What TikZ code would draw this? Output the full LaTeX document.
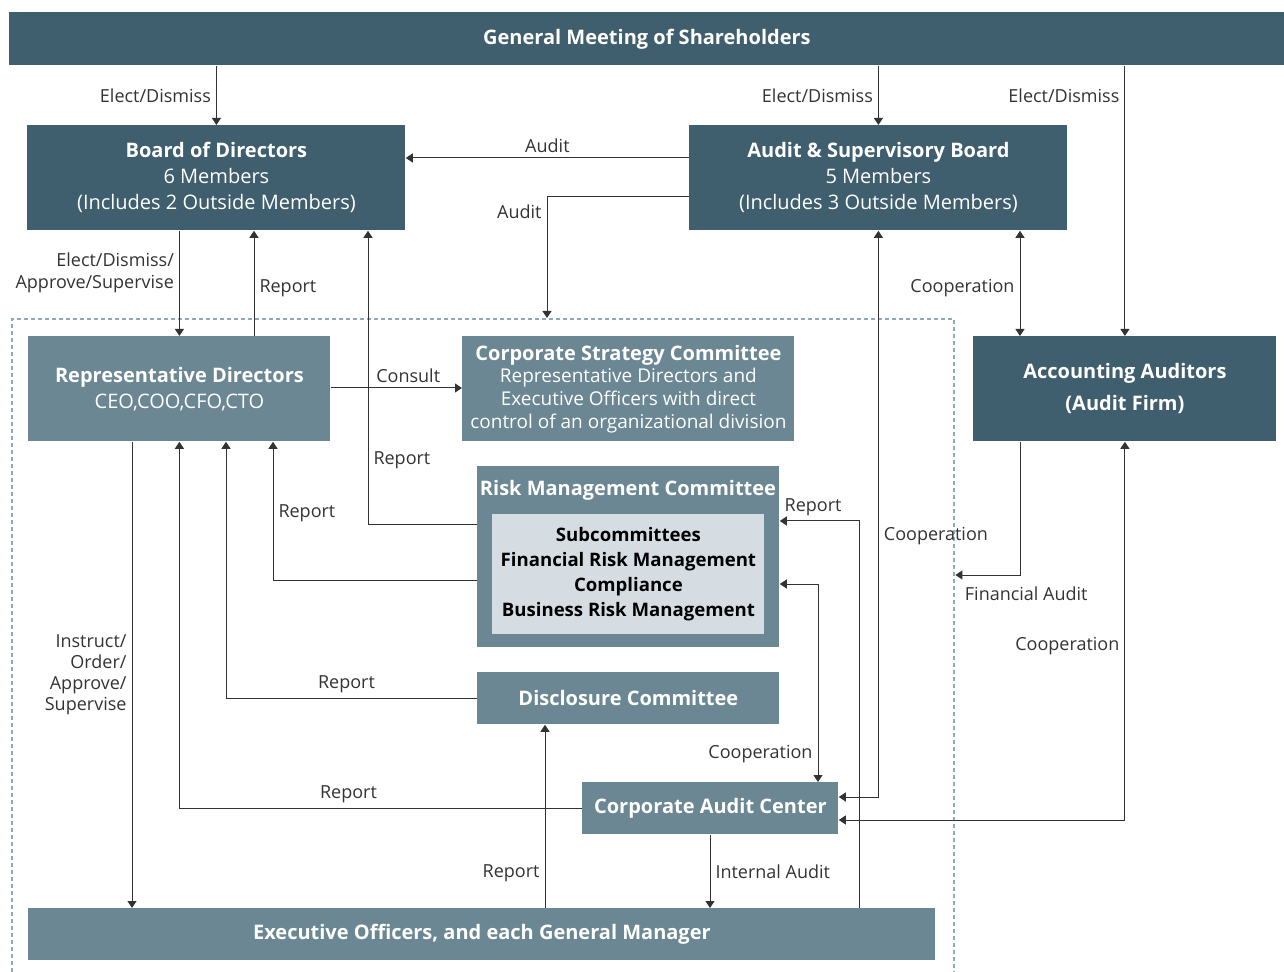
\documentclass[tikz,border=0pt]{standalone}
\usepackage{fontspec}
\setmainfont{Open Sans}
\usetikzlibrary{arrows.meta}

\definecolor{darkteal}{HTML}{3F5E6E}
\definecolor{midteal}{HTML}{6A8793}
\definecolor{paleteal}{HTML}{D5DDE3}
\definecolor{frameblue}{HTML}{8BAABA}
\definecolor{linegray}{HTML}{333333}

\tikzset{
  darkbox/.style={fill=darkteal, text=white, inner sep=0pt, anchor=north west,
    align=center, font=\fontsize{10}{13}\selectfont},
  midbox/.style={darkbox, fill=midteal},
  subbox/.style={fill=paleteal, text=black, inner sep=0pt, anchor=north west,
    align=center, font=\bfseries\fontsize{9.3}{12.5}\selectfont},
  frame/.style={draw=frameblue, line width=1.2pt, dash pattern=on 2pt off 1.5pt,
    inner sep=0pt, anchor=north west},
  lbl/.style={font=\fontsize{9}{11}\selectfont, text=linegray, inner sep=2.5pt},
  arr/.style={draw=linegray, line width=0.5pt, -{Triangle[length=3.5pt,width=4.5pt]}},
  twoway/.style={arr, {Triangle[length=3.5pt,width=4.5pt]}-{Triangle[length=3.5pt,width=4.5pt]}}
}

\begin{document}
\begin{tikzpicture}[x=0.5pt,y=-0.5pt]
  \useasboundingbox (0,0) rectangle (1284,972);

  % Frame round the executive bodies
  \node[frame, minimum width=471pt, minimum height=340pt] (grp) at (11,318) {};

  % Governing bodies
  \node[darkbox, minimum width=637.5pt, minimum height=26.5pt] (gms) at (9,12)
    {\textbf{General Meeting of Shareholders}};
  \node[darkbox, minimum width=189pt, minimum height=52.5pt] (bod) at (27,125)
    {\textbf{Board of Directors}\\6 Members\\(Includes 2 Outside Members)};
  \node[darkbox, minimum width=189pt, minimum height=52.5pt] (asb) at (689,125)
    {\textbf{Audit \& Supervisory Board}\\5 Members\\(Includes 3 Outside Members)};
  \node[darkbox, minimum width=151.5pt, minimum height=52.5pt, font=\bfseries\fontsize{10}{16}\selectfont] (acc) at (973,336)
    {Accounting Auditors\\(Audit Firm)};

  % Executive side
  \node[midbox, minimum width=151pt, minimum height=52.5pt] (rep) at (28,336)
    {\textbf{Representative Directors}\\CEO,COO,CFO,CTO};
  \node[midbox, minimum width=166pt, minimum height=52.5pt, font=\fontsize{9.5}{11.3}\selectfont] (csc) at (462,336)
    {\textbf{\fontsize{10}{12}\selectfont Corporate Strategy Committee}\\Representative Directors and\\Executive Officers with direct\\control of an organizational division};
  \node[midbox, minimum width=151pt, minimum height=90.5pt] (risk) at (477,466) {};
  \node[text=white, font=\bfseries\fontsize{10}{12}\selectfont, inner sep=0pt] (risktitle) at (628,490)
    {Risk Management Committee};
  \node[subbox, minimum width=136pt, minimum height=60pt] (sub) at (492,514)
    {Subcommittees\\Financial Risk Management\\Compliance\\Business Risk Management};
  \node[midbox, minimum width=151pt, minimum height=26pt] (disc) at (477,672)
    {\textbf{Disclosure Committee}};
  \node[midbox, minimum width=128pt, minimum height=26pt] (cac) at (582,782)
    {\textbf{Corporate Audit Center}};
  \node[midbox, minimum width=453.5pt, minimum height=26pt] (exec) at (28,908)
    {\textbf{Executive Officers, and each General Manager}};

  % Elect/Dismiss
  \draw[arr] (gms.south -| bod.north) -- node[lbl, left] (ed1) {Elect/Dismiss} (bod.north);
  \draw[arr] (gms.south -| asb.north) -- node[lbl, left] (ed2) {Elect/Dismiss} (asb.north);
  \draw[arr] (gms.south -| acc.north) -- node[lbl, left, pos=0.11] (ed3) {Elect/Dismiss} (acc.north);

  % Audit
  \draw[arr] (asb.west |- 0,158) -- node[lbl, above] (au1) {Audit} (bod.east |- 0,158);
  \draw[arr] (asb.west |- 0,197) -| node[lbl, left, pos=0.56] (au2) {Audit} (grp.north -| 547,0);

  % Board and representative directors
  \draw[arr] (bod.south -| rep.north) -- node[lbl, left, align=right, pos=0.4] (eda) {Elect/Dismiss/\\Approve/Supervise} (rep.north);
  \draw[arr] (rep.north -| 254,0) -- node[lbl, right, pos=0.45] (rp1) {Report} (bod.south -| 254,0);
  \draw[arr] (risk.west |- 0,525) -| node[lbl, right, pos=0.61] (rp2) {Report} (bod.south -| 368,0);
  \draw[arr] (rep.east |- 0,388) -- node[lbl, above, pos=0.59] (cons) {Consult} (csc.west |- 0,388);

  % Reports to the representative directors
  \draw[arr] (risk.west |- 0,580) -| node[lbl, right, pos=0.74] (rp3) {Report} (rep.south -| 273,0);
  \draw[arr] (disc.west) -| node[lbl, above, pos=0.26] (rp4) {Report} (rep.south -| 226,0);
  \draw[arr] (cac.west) -| node[lbl, above, pos=0.29] (rp5) {Report} (rep.south);
  \draw[arr] (rep.south -| 132,0) -- node[lbl, left, align=right, font=\fontsize{9}{10.5}\selectfont] (ins)
    {Instruct/\\Order/\\Approve/\\Supervise} (exec.north -| 132,0);

  % Executive officers and audit center
  \draw[arr] (exec.north -| 545,0) -- node[lbl, left, pos=0.19] (rp6) {Report} (disc.south -| 545,0);
  \draw[arr] (cac.south -| 710,0) -- node[lbl, right] (ia) {Internal Audit} (exec.north -| 710,0);
  \draw[arr] (exec.north -| 859,0) |- node[lbl, above, pos=0.79] (rp7) {Report} (risk.east |- 0,521);
  \draw[twoway] (risk.east |- 0,584) -| node[lbl, left, pos=0.93] (co1) {Cooperation} (cac.north -| 818,0);

  % Cooperation with the auditors
  \draw[twoway] (asb.south) |- node[lbl, right, pos=0.27] (co2) {Cooperation} (cac.east |- 0,797);
  \draw[twoway] (asb.south -| 1020,0) -- node[lbl, left, pos=0.54] (co3) {Cooperation} (acc.north -| 1020,0);
  \draw[arr] (acc.south -| 1020,0) |- node[lbl, pos=1, anchor=north west, xshift=2pt, yshift=-3pt] (fa) {Financial Audit} (grp.east |- 0,575);
  \draw[twoway] (cac.east |- 0,820) -| node[lbl, left, pos=0.73] (co4) {Cooperation} (acc.south);

\end{tikzpicture}
\end{document}
